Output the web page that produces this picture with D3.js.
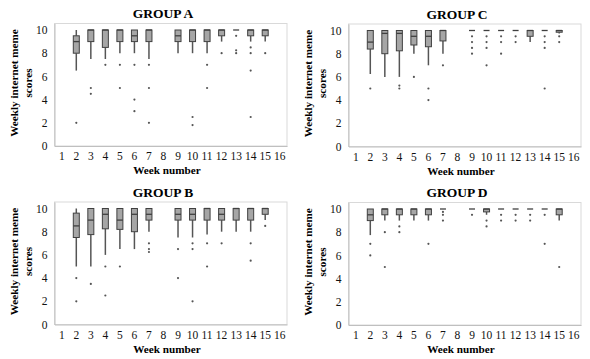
<!DOCTYPE html>
<html>
<head>
<meta charset="utf-8">
<script src="https://cdn.jsdelivr.net/npm/d3@7"></script>
<style>
  html, body { margin: 0; padding: 0; background: #fff; }
  svg { display: block; }
</style>
</head>
<body>
<svg id="chart" width="590" height="359"></svg>
<script>
// ---- Data ----
const weekLabels = ["1","2","3","4","5","6","7","8","9","10","11","12","13","14","15","16"];
const boxWeeks = ["2","3","4","5","6","7","9","10","11","12","13","14","15"];
const yTicks = [0, 2, 4, 6, 8, 10];
const groupNames = ["GROUP A", "GROUP C", "GROUP B", "GROUP D"];

// Group A
const lowA  = [6.5, 7.5, 7.5, 8, 8, 7.5, 8, 8, 8, 9, 10, 9, 9];
const q1A   = [8, 9, 8.5, 9, 9, 9, 9, 9, 9, 9.5, 10, 9.5, 9.5];
const medA  = [9, 10, 10, 10, 9.5, 10, 9.5, 10, 10, 10, 10, 10, 10];
const q3A   = [9.5, 10, 10, 10, 10, 10, 10, 10, 10, 10, 10, 10, 10];
const highA = [10, 10, 10, 10, 10, 10, 10, 10, 10, 10, 10, 10, 10];
const outA  = [[2], [5, 4.5], [7], [7, 5], [7, 4, 3], [7, 5, 2], [], [2.5, 1.8], [7, 5], [8], [9.5, 8.25, 8], [8.5, 8, 6.5, 2.5], [8]];

// Group B
const lowB  = [5, 5, 6, 6.5, 6.5, 8, 7.5, 7.5, 7.75, 8, 8, 8, 9];
const q1B   = [7.5, 7.75, 8.25, 8.2, 8, 9, 9, 9, 9, 9, 9, 9, 9.5];
const medB  = [8.5, 9, 9.5, 9, 9.5, 9.5, 9.5, 9.5, 10, 9.5, 10, 10, 10];
const q3B   = [9.6, 10, 10, 10, 10, 10, 10, 10, 10, 10, 10, 10, 10];
const highB = [10, 10, 10, 10, 10, 10, 10, 10, 10, 10, 10, 10, 10];
const outB  = [[4, 2], [3.5], [5, 2.5], [5], [], [7, 6.5, 6.25], [6.5, 4], [7, 6.5, 2], [7, 5], [7], [], [7, 5.5], [8.5]];

// Group C
const lowC  = [6.25, 6, 6, 8, 7, 8, 10, 10, 10, 10, 9, 10, 9.75];
const q1C   = [8.4, 8, 8.25, 8.75, 8.6, 9.1, 10, 10, 10, 10, 9.5, 10, 9.85];
const medC  = [9, 9.75, 9.75, 9.5, 9.5, 10, 10, 10, 10, 10, 10, 10, 10];
const q3C   = [10, 10, 10, 10, 10, 10, 10, 10, 10, 10, 10, 10, 10];
const highC = [10, 10, 10, 10, 10, 10, 10, 10, 10, 10, 10, 10, 10];
const outC  = [[5], [], [5.25, 5], [6], [5, 4], [7], [9.5, 9, 8.5, 8], [9.5, 9, 8.5, 7], [9.5, 9, 8], [9.5, 9], [], [9.5, 9, 8.5, 5], [9.5, 9]];

// Group D
const lowD  = [7.75, 9, 9, 9, 9, 10, 10, 9.5, 10, 10, 10, 10, 9];
const q1D   = [9, 9.5, 9.5, 9.5, 9.5, 10, 10, 9.75, 10, 10, 10, 10, 9.5];
const medD  = [9.5, 10, 10, 10, 10, 10, 10, 10, 10, 10, 10, 10, 10];
const q3D   = [10, 10, 10, 10, 10, 10, 10, 10, 10, 10, 10, 10, 10];
const highD = [10, 10, 10, 10, 10, 10, 10, 10, 10, 10, 10, 10, 10];
const outD  = [[7, 6], [8, 5], [8.5, 8], [], [7], [9.75, 9.5, 9], [9.5], [9, 8.5], [9.5, 9], [9.5, 9], [9.5, 9], [9.5, 7], [5]];

const groups = [
  { name: groupNames[0], low: lowA, q1: q1A, med: medA, q3: q3A, high: highA, out: outA, dx: 0,   dy: 0 },
  { name: groupNames[1], low: lowC, q1: q1C, med: medC, q3: q3C, high: highC, out: outC, dx: 294, dy: 0.5 },
  { name: groupNames[2], low: lowB, q1: q1B, med: medB, q3: q3B, high: highB, out: outB, dx: 0,   dy: 178.5 },
  { name: groupNames[3], low: lowD, q1: q1D, med: medD, q3: q3D, high: highD, out: outD, dx: 294, dy: 179 }
];

// ---- Drawing ----
const svg = d3.select("#chart");
const font = "'Liberation Serif', 'Times New Roman', serif";
const plotL = 54.5, plotR = 287, plotT = 23.5, plotB = 146;

const x = d3.scaleBand().domain(weekLabels).range([plotL, plotR]);
const y = d3.scaleLinear().domain([0, 10.56]).range([plotB, plotT]);
const boxW = 6;

groups.forEach(g => {
  const p = svg.append("g").attr("transform", `translate(${g.dx},${g.dy})`);

  // plot frame
  p.append("rect")
    .attr("x", plotL).attr("y", plotT)
    .attr("width", plotR - plotL).attr("height", plotB - plotT)
    .attr("fill", "none").attr("stroke", "#d9d9d9").attr("stroke-width", 1);

  // y axis
  const ya = p.append("g").attr("transform", `translate(${plotL},0)`)
    .call(d3.axisLeft(y).tickValues(yTicks).tickSize(0).tickPadding(7));
  ya.select(".domain").attr("stroke", "#bfbfbf");
  ya.selectAll("text").attr("font-family", font).attr("font-size", 11.5).attr("fill", "#111");

  // x axis
  const xa = p.append("g").attr("transform", `translate(0,${plotB})`)
    .call(d3.axisBottom(x).tickSize(0).tickPadding(6));
  xa.select(".domain").attr("stroke", "#bfbfbf");
  xa.selectAll("text").attr("font-family", font).attr("font-size", 11.5).attr("fill", "#111");

  // title
  p.append("text").attr("x", 163).attr("y", 18)
    .attr("text-anchor", "middle").attr("font-family", font)
    .attr("font-weight", "bold").attr("font-size", 13.5).text(g.name);

  // x label
  p.append("text").attr("x", 167).attr("y", 174)
    .attr("text-anchor", "middle").attr("font-family", font)
    .attr("font-weight", "bold").attr("font-size", 11.2).text("Week number");

  // y label (two lines)
  const yl = p.append("text")
    .attr("transform", "translate(0,83) rotate(-90)")
    .attr("text-anchor", "middle").attr("font-family", font)
    .attr("font-weight", "bold").attr("font-size", 11.2);
  yl.append("tspan").attr("x", 0).attr("y", 17.5).text("Weekly internet meme");
  yl.append("tspan").attr("x", 0).attr("y", 31.5).text("scores");

  // boxes
  const data = boxWeeks.map((w, i) => ({
    w, low: g.low[i], q1: g.q1[i], med: g.med[i], q3: g.q3[i], high: g.high[i], out: g.out[i]
  }));
  const bx = p.selectAll(".bx").data(data).enter().append("g")
    .attr("transform", d => `translate(${x(d.w) + x.bandwidth() / 2},0)`);

  // whiskers
  bx.append("line").attr("x1", 0).attr("x2", 0)
    .attr("y1", d => y(d.low)).attr("y2", d => y(d.q1))
    .attr("stroke", "#555").attr("stroke-width", 1.5);
  bx.append("line").attr("x1", 0).attr("x2", 0)
    .attr("y1", d => y(d.q3)).attr("y2", d => y(d.high))
    .attr("stroke", "#555").attr("stroke-width", 1.5);

  // box
  bx.append("rect")
    .attr("x", -boxW / 2).attr("width", boxW)
    .attr("y", d => y(d.q3)).attr("height", d => y(d.q1) - y(d.q3))
    .attr("fill", "#a6a6a6").attr("stroke", "#404040").attr("stroke-width", 1);

  // median
  bx.append("line").attr("x1", -boxW / 2).attr("x2", boxW / 2)
    .attr("y1", d => y(d.med)).attr("y2", d => y(d.med))
    .attr("stroke", "#404040").attr("stroke-width", 1.3);

  // outliers
  bx.selectAll("circle").data(d => d.out).enter().append("circle")
    .attr("cx", 0).attr("cy", v => y(v)).attr("r", 1.1)
    .attr("fill", "#555");
});
</script>
</body>
</html>
